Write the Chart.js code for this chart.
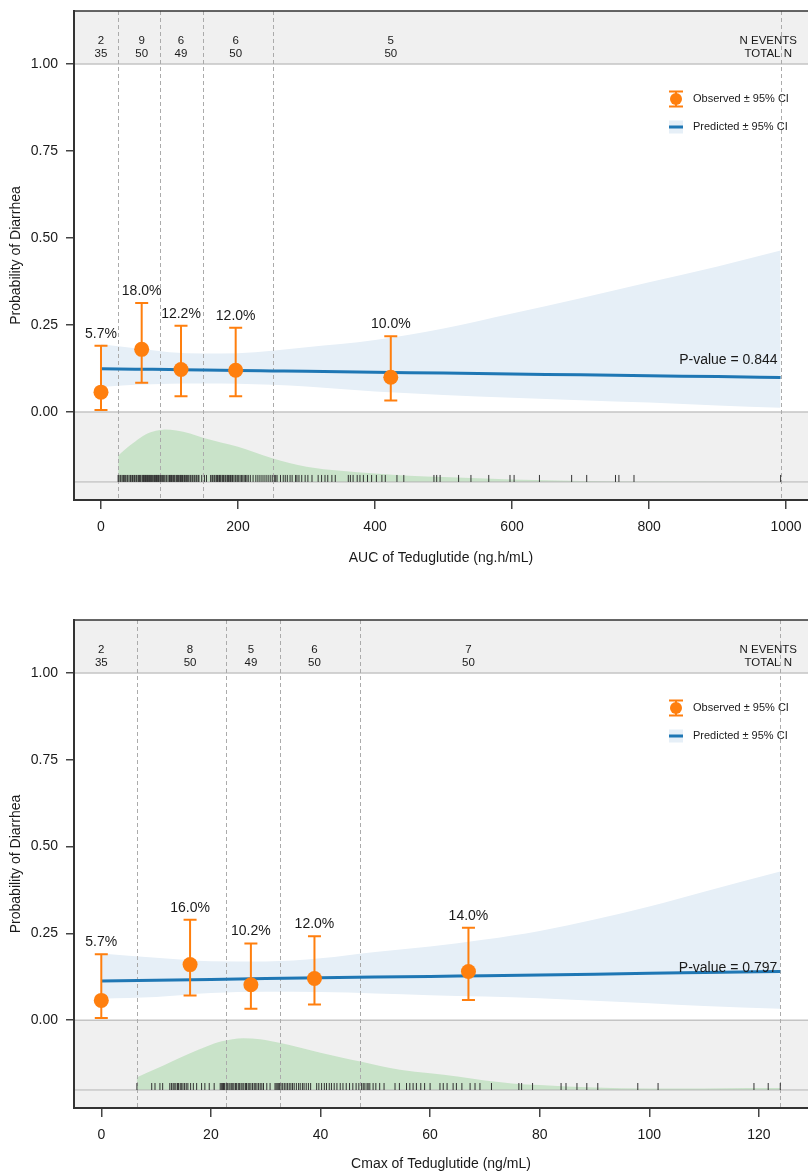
<!DOCTYPE html>
<html>
<head>
<meta charset="utf-8">
<script src="https://cdn.jsdelivr.net/npm/chart.js@4.4.1/dist/chart.umd.min.js"></script>
<style>
  html, body { margin: 0; padding: 0; background: #fff; }
  body { width: 808px; height: 1173px; position: relative; overflow: hidden; }
  .panel { position: absolute; left: 0; width: 808px; }
  #p1 { top: 0; height: 609px; }
  #p2 { top: 609px; height: 564px; }
</style>
</head>
<body>
<div class="panel" id="p1"><canvas id="aucChart" width="808" height="609"></canvas></div>
<div class="panel" id="p2"><canvas id="cmaxChart" width="808" height="564"></canvas></div>
<script>
// shared
const probTicks = [0, 0.25, 0.5, 0.75, 1];
const probLabel = "Probability of Diarrhea";
const legendLabels = ["Observed \u00b1 95% CI", "Predicted \u00b1 95% CI"];
const headerLabels = ["N EVENTS", "TOTAL N"];

// ---- AUC panel ----
const aucObsX = [0, 59.4, 116.8, 196.6, 423];
const aucObsP = [0.057, 0.180, 0.122, 0.120, 0.100];
const aucObsLo = [0.006, 0.084, 0.045, 0.045, 0.033];
const aucObsHi = [0.190, 0.313, 0.248, 0.242, 0.218];
const aucEvents = [2, 9, 6, 6, 5];
const aucTotals = [35, 50, 49, 50, 50];
const aucCuts = [25, 86, 149, 251, 992];
const aucCurveX = [0, 50, 100, 150, 200, 250, 300, 400, 500, 600, 700, 800, 900, 992];
const aucPred   = [0.124, 0.123, 0.122, 0.121, 0.119, 0.118, 0.117, 0.114, 0.112, 0.109, 0.107, 0.104, 0.102, 0.099];
const aucPredLo = [0.072, 0.078, 0.081, 0.082, 0.081, 0.078, 0.073, 0.059, 0.049, 0.041, 0.034, 0.027, 0.019, 0.012];
const aucPredHi = [0.195, 0.183, 0.172, 0.168, 0.169, 0.176, 0.186, 0.207, 0.240, 0.283, 0.327, 0.373, 0.418, 0.464];
const aucDensX = [25, 35, 50, 65, 80, 93, 110, 130, 150, 175, 200, 250, 300, 350, 400, 450, 500, 600, 700, 800, 992];
const aucDensY = [-0.126, -0.108, -0.085, -0.065, -0.054, -0.050, -0.053, -0.062, -0.075, -0.088, -0.100, -0.133, -0.157, -0.169, -0.177, -0.183, -0.187, -0.194, -0.198, -0.200, -0.201];
const aucRug = [
  25, 26, 28, 29, 31, 33, 34, 36, 38, 39, 41, 43, 44, 46, 48, 49, 51, 52, 54, 55, 56, 57, 58, 60, 61, 62, 63, 64, 65, 66, 67, 68, 69, 70, 71, 72, 73, 74, 75, 77, 78, 79, 80, 81, 82, 83, 84, 85,
  87, 88, 90, 91, 93, 95, 96, 98, 100, 101, 102, 103, 104, 106, 107, 108, 110, 111, 112, 113, 115, 116, 117, 118, 119, 121, 122, 123, 125, 126, 128, 130, 131, 133, 134, 136, 137, 139, 140, 142, 143, 147, 151, 154,
  160, 162, 163, 165, 166, 168, 169, 170, 172, 173, 174, 175, 177, 178, 179, 181, 182, 184, 185, 186, 188, 189, 191, 192, 194, 196, 197, 199, 201, 203, 205, 207, 209, 211, 213, 215, 218, 222, 226, 229, 232, 235, 238, 241, 244, 247, 250,
  253, 255, 257, 262, 266, 269, 272, 276, 279, 284, 286, 289, 293, 298, 302, 308, 317, 322, 327, 331, 337, 342, 361, 364, 368, 374, 378, 383, 389, 395, 402, 410, 415, 432, 442, 486, 490, 495, 522, 540, 566, 597, 603, 640, 687, 709, 751, 756, 778, 992
];
const aucTicks = [0, 200, 400, 600, 800, 1000];
const aucTitle = "AUC of Teduglutide (ng.h/mL)";
const aucPValue = "P-value = 0.844";

// ---- Cmax panel ----
const cmaxObsX = [0, 16.2, 27.3, 38.9, 67];
const cmaxObsP = [0.057, 0.160, 0.102, 0.120, 0.140];
const cmaxObsLo = [0.006, 0.071, 0.033, 0.045, 0.058];
const cmaxObsHi = [0.190, 0.289, 0.221, 0.242, 0.266];
const cmaxEvents = [2, 8, 5, 6, 7];
const cmaxTotals = [35, 50, 49, 50, 50];
const cmaxCuts = [6.45, 22.7, 32.7, 47.3, 123.9];
const cmaxCurveX = [0, 10, 20, 30, 40, 50, 60, 70, 80, 90, 100, 110, 123.9];
const cmaxPred   = [0.113, 0.115, 0.117, 0.120, 0.122, 0.124, 0.126, 0.128, 0.130, 0.132, 0.135, 0.137, 0.140];
const cmaxPredLo = [0.062, 0.067, 0.078, 0.082, 0.081, 0.077, 0.072, 0.068, 0.063, 0.056, 0.049, 0.041, 0.033];
const cmaxPredHi = [0.192, 0.180, 0.170, 0.169, 0.178, 0.196, 0.212, 0.232, 0.257, 0.290, 0.327, 0.370, 0.428];
const cmaxDensX = [6.45, 10, 12.5, 16, 19.2, 22, 25.9, 29, 32.7, 36, 40, 44, 47.3, 54.5, 60, 65, 70, 75, 80, 85, 90, 100, 110, 118, 123.9];
const cmaxDensY = [-0.165, -0.140, -0.122, -0.097, -0.076, -0.061, -0.052, -0.055, -0.066, -0.078, -0.094, -0.108, -0.119, -0.143, -0.153, -0.162, -0.174, -0.182, -0.187, -0.191, -0.194, -0.197, -0.197, -0.195, -0.195];
const cmaxRug = [
  6.5, 9.2, 9.8, 10.7, 11.2, 12.5, 12.8, 13.1, 13.3, 13.6, 13.9, 14.1, 14.4, 14.6, 14.9, 15.2, 15.5, 15.8, 16.3, 16.8, 17.4, 18.3, 18.9, 19.7, 20.6, 21.7, 21.9, 22.1, 22.3, 22.5,
  22.8, 23.0, 23.3, 23.5, 23.8, 24.0, 24.2, 24.5, 24.7, 25.0, 25.2, 25.5, 25.7, 26.0, 26.3, 26.5, 26.8, 27.0, 27.3, 27.6, 27.9, 28.1, 28.4, 28.7, 29.0, 29.3, 29.6, 30.2, 30.8, 31.7, 31.9, 32.1, 32.3, 32.5,
  32.8, 33.1, 33.4, 33.7, 34.0, 34.3, 34.6, 34.9, 35.2, 35.6, 36.0, 36.3, 36.7, 37.0, 37.4, 37.8, 38.2, 39.3, 39.7, 40.2, 40.7, 41.1, 41.6, 42.0, 42.5, 43.0, 43.6, 44.1, 44.7, 45.3, 45.9, 46.5, 47.0,
  47.5, 47.8, 48.1, 48.5, 48.7, 49.0, 49.6, 50.1, 50.8, 51.6, 53.6, 54.4, 55.7, 56.3, 56.9, 57.5, 58.3, 59.0, 60.0, 61.8, 62.4, 63.1, 64.2, 64.8, 65.8, 67.3, 68.2, 69.1, 71.2, 76.2, 76.7, 78.7, 83.9, 84.8, 86.8, 88.6, 90.6, 97.9, 101.6, 119.1, 121.7, 123.9
];
const cmaxTicks = [0, 20, 40, 60, 80, 100, 120];
const cmaxTitle = "Cmax of Teduglutide (ng/mL)";
const cmaxPValue = "P-value = 0.797";

const ORANGE = "#ff7f0e", BLUE = "#1f77b4", BAND = "#e6eff7", GREEN = "#c9e3c9";
const TEXT = "#1a1a1a", FONT = "'Liberation Sans', Arial, sans-serif";
const densBase = -0.201, rugLevel = -0.191;

Chart.defaults.font.family = FONT;

function pts(xs, ys) { return xs.map((v, i) => ({x: v, y: ys[i]})); }

function makePanel(id, d) {
  const decor = {
    id: "decor",
    beforeDatasetsDraw(chart) {
      const {ctx, chartArea: a, scales: {y}} = chart;
      const y1 = y.getPixelForValue(1), y0 = y.getPixelForValue(0);
      ctx.save();
      ctx.fillStyle = "#f0f0f0";
      ctx.fillRect(a.left, a.top, a.right - a.left, y1 - a.top);
      ctx.fillRect(a.left, y0, a.right - a.left, a.bottom - y0);
      ctx.strokeStyle = "#c4c4c4";
      ctx.lineWidth = 1.5;
      [y1, y0].forEach(py => { ctx.beginPath(); ctx.moveTo(a.left, py); ctx.lineTo(a.right, py); ctx.stroke(); });
      ctx.restore();
    },
    beforeDatasetDraw(chart, args) {
      const {ctx, chartArea: a, scales: {x, y}} = chart;
      ctx.save();
      if (args.index === 3) {
        // rug baseline
        const yb = y.getPixelForValue(densBase);
        ctx.strokeStyle = "#b4b4b4"; ctx.lineWidth = 1;
        ctx.beginPath(); ctx.moveTo(a.left, yb); ctx.lineTo(a.right, yb); ctx.stroke();
        // bin cut lines
        ctx.strokeStyle = "#ababab"; ctx.setLineDash([4, 3]);
        d.cuts.forEach(c => {
          const px = Math.round(x.getPixelForValue(c)) + 0.5;
          ctx.beginPath(); ctx.moveTo(px, a.top); ctx.lineTo(px, a.bottom); ctx.stroke();
        });
      }
      if (args.index === 5) {
        ctx.strokeStyle = ORANGE; ctx.lineWidth = 2;
        d.obsX.forEach((v, i) => {
          const px = x.getPixelForValue(v), lo = y.getPixelForValue(d.obsLo[i]), hi = y.getPixelForValue(d.obsHi[i]);
          ctx.beginPath();
          ctx.moveTo(px, lo); ctx.lineTo(px, hi);
          ctx.moveTo(px - 6.5, lo); ctx.lineTo(px + 6.5, lo);
          ctx.moveTo(px - 6.5, hi); ctx.lineTo(px + 6.5, hi);
          ctx.stroke();
        });
      }
      ctx.restore();
    },
    afterDatasetsDraw(chart) {
      const {ctx, chartArea: a, scales: {x, y}} = chart;
      ctx.save();
      ctx.fillStyle = TEXT;
      ctx.textBaseline = "middle";
      // percentage labels
      ctx.font = "14px " + FONT; ctx.textAlign = "center";
      d.obsX.forEach((v, i) => {
        ctx.fillText((d.obsP[i] * 100).toFixed(1) + "%", x.getPixelForValue(v), y.getPixelForValue(d.obsHi[i]) - 12);
      });
      // p-value
      ctx.textAlign = "right";
      ctx.fillText(d.pValue, x.getPixelForValue(d.cuts[d.cuts.length - 1]) - 3, y.getPixelForValue(0.15));
      // header strip
      ctx.font = "11.5px " + FONT; ctx.textAlign = "center";
      d.obsX.forEach((v, i) => {
        const px = x.getPixelForValue(v);
        ctx.fillText(String(d.events[i]), px, a.top + 29.7);
        ctx.fillText(String(d.totals[i]), px, a.top + 43.3);
      });
      const hx = x.getPixelForValue(d.headerX);
      ctx.fillText(headerLabels[0], hx, a.top + 29.7);
      ctx.fillText(headerLabels[1], hx, a.top + 43.3);
      // legend
      const lx = a.right - 132, l1 = a.top + 88, l2 = a.top + 116;
      ctx.strokeStyle = ORANGE; ctx.lineWidth = 2;
      ctx.beginPath();
      ctx.moveTo(lx, l1 - 7.5); ctx.lineTo(lx, l1 + 7.5);
      ctx.moveTo(lx - 7, l1 - 7.5); ctx.lineTo(lx + 7, l1 - 7.5);
      ctx.moveTo(lx - 7, l1 + 7.5); ctx.lineTo(lx + 7, l1 + 7.5);
      ctx.stroke();
      ctx.fillStyle = ORANGE;
      ctx.beginPath(); ctx.arc(lx, l1, 6, 0, Math.PI * 2); ctx.fill();
      ctx.fillStyle = BAND; ctx.fillRect(lx - 7, l2 - 6.5, 14, 13);
      ctx.strokeStyle = BLUE; ctx.lineWidth = 3;
      ctx.beginPath(); ctx.moveTo(lx - 7, l2); ctx.lineTo(lx + 7, l2); ctx.stroke();
      ctx.fillStyle = TEXT; ctx.font = "11px " + FONT; ctx.textAlign = "left";
      ctx.fillText(legendLabels[0], lx + 17, l1);
      ctx.fillText(legendLabels[1], lx + 17, l2);
      // top frame
      ctx.strokeStyle = "#333"; ctx.lineWidth = 1.5;
      ctx.beginPath(); ctx.moveTo(a.left, a.top); ctx.lineTo(a.right, a.top); ctx.stroke();
      ctx.restore();
    }
  };

  const tickFont = {size: 14};
  return new Chart(document.getElementById(id), {
    type: "scatter",
    data: {
      datasets: [
        {type: "line", data: pts(d.densX, d.densY), borderWidth: 0, borderColor: GREEN, backgroundColor: GREEN,
         fill: {value: densBase}, pointRadius: 0, cubicInterpolationMode: "monotone", order: 6},
        {type: "line", data: pts(d.curveX, d.predLo), borderWidth: 0, borderColor: BAND, pointRadius: 0,
         fill: false, cubicInterpolationMode: "monotone", order: 5},
        {type: "line", data: pts(d.curveX, d.predHi), borderWidth: 0, borderColor: BAND, backgroundColor: BAND,
         fill: "-1", pointRadius: 0, cubicInterpolationMode: "monotone", order: 4},
        {type: "line", data: pts(d.curveX, d.pred), borderWidth: 3, borderColor: BLUE, pointRadius: 0,
         fill: false, cubicInterpolationMode: "monotone", order: 3},
        {type: "scatter", data: d.rug.map(v => ({x: v, y: rugLevel})), pointStyle: "line", rotation: 90,
         pointRadius: 3.5, borderColor: "#333", borderWidth: 1, order: 2},
        {type: "scatter", data: pts(d.obsX, d.obsP), pointRadius: 7.5, backgroundColor: ORANGE,
         borderWidth: 0, order: 1}
      ]
    },
    options: {
      responsive: false, animation: false, events: [], devicePixelRatio: 1,
      layout: {autoPadding: false, padding: {top: 11, left: 0, right: 0, bottom: 0}},
      plugins: {legend: {display: false}, tooltip: {enabled: false}},
      scales: {
        x: {
          type: "linear", min: d.xMin, max: d.xMax,
          afterBuildTicks: s => { s.ticks = d.xTicks.map(v => ({value: v})); },
          afterFit: s => { s.height = d.xAxisH; s.paddingLeft = 0; s.paddingRight = 0; },
          ticks: {color: TEXT, font: tickFont, padding: 10, maxRotation: 0, autoSkip: false, callback: v => String(v)},
          grid: {drawOnChartArea: false, drawTicks: true, tickLength: 9, color: "#444", lineWidth: 1.5},
          border: {display: true, color: "#333", width: 2, z: 1},
          title: {display: true, text: d.title, color: TEXT, font: {size: 14}, padding: {top: 0, bottom: d.titlePad}}
        },
        y: {
          type: "linear", min: -0.2529, max: 1.1523,
          afterBuildTicks: s => { s.ticks = probTicks.map(v => ({value: v})); },
          afterFit: s => { s.width = 74; s.paddingTop = 0; s.paddingBottom = 0; },
          ticks: {color: TEXT, font: tickFont, padding: 8, autoSkip: false, callback: v => v.toFixed(2)},
          grid: {drawOnChartArea: false, drawTicks: true, tickLength: 8, color: "#444", lineWidth: 1.5},
          border: {display: true, color: "#333", width: 2, z: 1},
          title: {display: true, text: probLabel, color: TEXT, font: {size: 14}, padding: {top: 7.5, bottom: 0}}
        }
      }
    },
    plugins: [decor]
  });
}

makePanel("aucChart", {
  obsX: aucObsX, obsP: aucObsP, obsLo: aucObsLo, obsHi: aucObsHi, events: aucEvents, totals: aucTotals,
  cuts: aucCuts, curveX: aucCurveX, pred: aucPred, predLo: aucPredLo, predHi: aucPredHi,
  densX: aucDensX, densY: aucDensY, rug: aucRug, xTicks: aucTicks, title: aucTitle, pValue: aucPValue,
  xMin: -39.4, xMax: 1032, headerX: 974, xAxisH: 109, titlePad: 42.6
});

makePanel("cmaxChart", {
  obsX: cmaxObsX, obsP: cmaxObsP, obsLo: cmaxObsLo, obsHi: cmaxObsHi, events: cmaxEvents, totals: cmaxTotals,
  cuts: cmaxCuts, curveX: cmaxCurveX, pred: cmaxPred, predLo: cmaxPredLo, predHi: cmaxPredHi,
  densX: cmaxDensX, densY: cmaxDensY, rug: cmaxRug, xTicks: cmaxTicks, title: cmaxTitle, pValue: cmaxPValue,
  xMin: -4.98, xMax: 128.96, headerX: 121.7, xAxisH: 65, titlePad: 0
});
</script>
</body>
</html>
